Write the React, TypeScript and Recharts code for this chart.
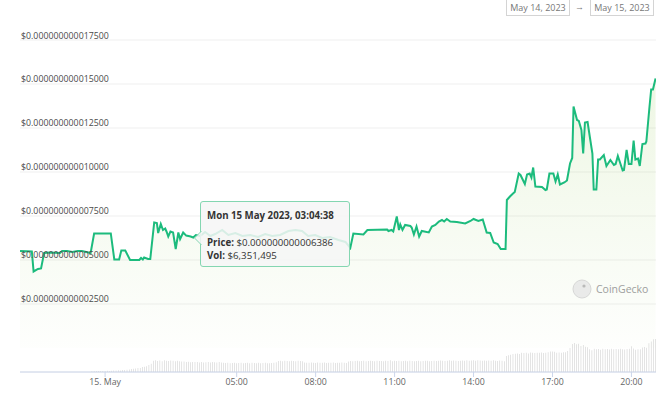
import { ComposedChart, Area, Bar, XAxis, YAxis, CartesianGrid, Tooltip } from "recharts";

const FONT = '"Open Sans", "Noto Sans", sans-serif';
const LINE = "#1cbb7d";

// minutes from 15 May 00:00 (negative = 14 May), price in units of 1e-15 USD
const priceTimes = [
  -194, -167, -163, -153, -146, -139, -126, -103, -98, -87, -75, -62, -53, -33, -25,
  13, 21, 32, 37, 46, 57, 78, 82, 86, 89, 98, 103, 112, 118, 121, 127, 132, 137, 140,
  144, 149, 155, 161, 167, 171, 178, 185, 195, 201, 207, 217, 228, 240, 251, 267, 281,
  297, 313, 331, 349, 365, 381, 399, 418, 434, 449, 463, 479, 495, 513, 532, 548, 559,
  566, 589, 598, 643, 646, 653, 657, 665, 670, 673, 678, 684, 696, 699, 704, 710, 716,
  722, 738, 745, 753, 761, 768, 773, 779, 787, 802, 821, 833, 840, 851, 861, 870, 878,
  886, 895, 902, 913, 916, 923, 930, 934, 943, 947, 957, 962, 968, 972, 976, 981, 996,
  1004, 1007, 1013, 1022, 1027, 1032, 1037, 1047, 1053, 1060, 1065, 1068, 1076, 1080,
  1086, 1090, 1094, 1100, 1105, 1111, 1114, 1120, 1124, 1128, 1137, 1143, 1152, 1160,
  1164, 1169, 1180, 1183, 1189, 1194, 1200, 1205, 1209, 1215, 1219, 1225, 1232, 1234,
  1241, 1245, 1249, 1255,
];
const priceValues = [
  5510, 5483, 4347, 4489, 4517, 5398, 5426, 5398, 5512, 5512, 5455, 5512, 5512, 5398, 6506,
  6506, 5029, 5029, 5540, 5540, 5000, 5000, 5114, 5029, 5142, 5057, 5057, 7131, 7103, 6534, 7046, 6705, 6790, 6620,
  6335, 6620, 6563, 5625, 6563, 6193, 6563, 6386, 6335, 6279, 6421, 6364, 6591, 6364, 6477, 6705, 6421,
  6534, 6364, 6421, 6307, 6477, 6364, 6421, 6648, 6705, 6648, 6364, 6421, 6250, 6307, 6136, 6023, 5682,
  6506, 6449, 6705, 6733, 6648, 6705, 6620, 7472, 6705, 7017, 6705, 6989, 6932, 6847, 6449, 6904, 6335,
  6648, 6563, 6904, 6989, 7188, 7273, 7188, 7330, 7188, 7159, 7074, 7216, 7330, 7216, 7301, 6563, 6534,
  5995, 5909, 5625, 5625, 8409, 8608, 8779, 8864, 9915, 9830, 9318, 9858, 9915, 9688, 10256, 9176, 9148,
  8978, 9006, 9915, 9915, 9461, 9858, 9290, 9404, 9517, 10483, 10796, 13722, 12955, 12898,
  12387, 11051, 12813, 12841, 12017, 11051, 9006, 9006, 10711, 10711, 10966, 10341, 10682, 10398,
  10455, 10909, 10086, 10114, 11250, 10455, 10455, 11790, 10711, 10767, 10341, 11591, 11620, 11733,
  13665, 14688, 14688, 15313,
];

// volume in millions USD, 5 minute bars starting at -30 min, one row per hour
const volumeStart = -30;
const volumeRows = [
  [0.5, 0.6, 0.6, 0.7, 0.6, 0.7, 0.7, 0.8, 0.7, 0.8, 0.9, 1.0],
  [1.1, 1.0, 1.2, 1.3, 1.5, 1.6, 1.9, 2.1, 2.2, 2.6, 2.5, 3.1],
  [3.4, 3.6, 4.4, 5.3, 7.1, 7.4, 7.0, 7.3, 6.9, 7.4, 7.2, 7.0],
  [7.3, 7.1, 6.8, 7.2, 6.9, 6.6, 6.7, 6.35, 6.5, 6.2, 6.4, 6.3],
  [6.4, 6.1, 6.3, 6.0, 6.2, 6.4, 6.1, 6.3, 6.2, 6.0, 6.3, 6.1],
  [5.8, 5.7, 5.9, 5.6, 5.7, 5.8, 5.5, 5.7, 5.9, 5.6, 5.7, 5.8],
  [5.6, 5.8, 5.7, 5.5, 5.8, 5.6, 5.7, 5.9, 5.6, 5.5, 5.7, 5.8],
  [6.2, 7.0, 7.1, 6.9, 7.2, 7.0, 6.8, 7.1, 7.0, 6.9, 7.2, 7.0],
  [6.8, 6.0, 5.9, 5.8, 6.0, 5.9, 5.7, 6.0, 5.8, 5.9, 6.0, 5.7],
  [5.9, 5.8, 6.0, 5.7, 5.9, 5.8, 6.0, 5.9, 5.7, 6.6, 7.0, 6.9],
  [7.0, 7.1, 6.9, 7.0, 7.1, 6.9, 7.0, 7.2, 7.0, 6.9, 7.1, 7.0],
  [7.0, 6.9, 7.1, 7.0, 7.4, 6.9, 7.1, 7.0, 7.2, 6.9, 7.0, 7.1],
  [6.9, 7.2, 7.0, 6.8, 7.0, 7.1, 6.9, 7.0, 7.2, 7.1, 6.8, 7.0],
  [7.1, 7.0, 7.2, 7.3, 7.1, 7.0, 7.2, 7.4, 7.1, 7.3, 7.2, 7.0],
  [7.2, 7.3, 7.1, 7.4, 7.2, 7.3, 7.5, 7.2, 7.4, 7.3, 7.1, 7.3],
  [7.2, 7.3, 7.1, 7.4, 7.2, 7.0, 7.3, 7.1, 6.9, 10.2, 10.6, 11.0],
  [11.4, 11.6, 11.7, 11.5, 12.2, 12.0, 12.3, 11.8, 12.4, 12.2, 12.1, 12.3],
  [12.2, 12.4, 12.0, 12.3, 12.5, 13.1, 13.0, 12.8, 12.2, 12.4, 12.3, 12.6],
  [12.5, 13.3, 15.2, 17.8, 18.4, 17.6, 18.0, 16.6, 17.2, 16.0, 15.8, 14.4],
  [13.8, 14.7, 14.4, 14.6, 14.2, 14.8, 14.5, 14.6, 14.3, 14.7, 14.5, 14.6],
  [14.4, 14.7, 14.5, 14.3, 14.6, 14.8, 16.3, 15.0, 14.2, 14.5, 14.4, 15.6],
  [15.9, 15.4, 18.2, 19.4, 20.8, 20.9],
];

const priceTicks = [2500, 5000, 7500, 10000, 12500, 15000, 17500];
const timeTicks = [0, 300, 480, 660, 840, 1020, 1200];

const tipTime = 185;
const tipLabel = "Mon 15 May 2023, 03:04:38";
const tipPrice = 6386;
const tipVolume = 6351495;

const rowMap = new Map<number, any>();
priceTimes.forEach((t, i) => rowMap.set(t, { t, price: priceValues[i] }));
volumeRows.flat().forEach((v, i) => {
  const t = volumeStart + i * 5;
  const row = rowMap.get(t) ?? { t };
  row.vol = v;
  rowMap.set(t, row);
});
const data = [...rowMap.values()].sort((a, b) => a.t - b.t);
const tipIndex = data.findIndex((d) => d.t === tipTime);

const fmtPrice = (v: number) => "$0." + String(v).padStart(15, "0");
const fmtTime = (t: number) => (t === 0 ? "15. May" : String(t / 60).padStart(2, "0") + ":00");

const PriceTick = ({ y, payload }: any) => (
  <text x={21} y={y - 1.5} fill="#4a4a4a" fontSize={8.8} fontFamily={FONT}>
    {fmtPrice(payload.value)}
  </text>
);

const TipBox = () => (
  <div
    style={{
      position: "relative",
      width: 150,
      height: 66,
      boxSizing: "border-box",
      background: "rgba(246,246,246,0.86)",
      border: "1px solid #84d6b1",
      borderRadius: 3,
      fontFamily: FONT,
      fontSize: 9.7,
      color: "#333",
      lineHeight: "12px",
      whiteSpace: "nowrap",
    }}
  >
    <svg width={8} height={14} style={{ position: "absolute", left: -7, top: 29 }}>
      <polyline points="7.5,0 0.5,7 7.5,14" fill="rgba(246,246,246,0.86)" stroke="#84d6b1" strokeWidth={1} />
    </svg>
    <div style={{ position: "absolute", left: 6, top: 8, fontWeight: 700 }}>{tipLabel}</div>
    <div style={{ position: "absolute", left: 6, top: 35 }}>
      <b>Price:</b> {fmtPrice(tipPrice)}
    </div>
    <div style={{ position: "absolute", left: 6, top: 48 }}>
      <b>Vol:</b> ${tipVolume.toLocaleString("en-US")}
    </div>
  </div>
);

const dateBox = (left: number, text: string) => (
  <div
    style={{
      position: "absolute",
      left,
      top: -2,
      width: 64,
      height: 18,
      boxSizing: "border-box",
      border: "1px solid #d4d4d4",
      fontFamily: FONT,
      fontSize: 9,
      color: "#777",
      textAlign: "center",
      lineHeight: "17px",
    }}
  >
    {text}
  </div>
);

export default function App() {
  return (
    <div style={{ position: "absolute", left: 0, top: 0, width: 665, height: 393, background: "#fff", overflow: "hidden" }}>
      <ComposedChart width={665} height={393} data={data} margin={{ top: 40, right: 9, bottom: 0, left: 19 }}>
        <defs>
          <linearGradient id="priceFill" gradientUnits="userSpaceOnUse" x1="0" y1="40" x2="0" y2="348">
            <stop offset="0%" stopColor="rgb(141,198,71)" stopOpacity={0.28} />
            <stop offset="100%" stopColor="rgb(141,198,71)" stopOpacity={0.02} />
          </linearGradient>
        </defs>
        <CartesianGrid yAxisId="price" vertical={false} stroke="#efefef" />
        <XAxis
          dataKey="t"
          type="number"
          domain={[-194, 1256]}
          allowDataOverflow
          ticks={timeTicks}
          interval={0}
          tickFormatter={fmtTime}
          height={21}
          tickSize={5}
          stroke="#ccd6eb"
          tick={{ fill: "#666", fontSize: 8.8, fontFamily: FONT }}
        />
        <YAxis
          yAxisId="price"
          domain={[-1364, 17500]}
          allowDataOverflow
          ticks={priceTicks}
          interval={0}
          width={1}
          axisLine={false}
          tickLine={false}
          tick={(props: any) => <PriceTick {...props} />}
        />
        <YAxis yAxisId="vol" orientation="right" domain={[0, 211]} allowDataOverflow hide />
        <Bar yAxisId="vol" dataKey="vol" fill="#bcbcbc" barSize={2} isAnimationActive={false} />
        <Area
          yAxisId="price"
          dataKey="price"
          type="linear"
          stroke={LINE}
          strokeWidth={2}
          fill="url(#priceFill)"
          connectNulls
          dot={false}
          activeDot={false}
          isAnimationActive={false}
        />
        <Tooltip
          active
          defaultIndex={tipIndex}
          position={{ x: 200, y: 201 }}
          cursor={false}
          isAnimationActive={false}
          content={() => <TipBox />}
          wrapperStyle={{ outline: "none" }}
        />
      </ComposedChart>

      {dateBox(506, "May 14, 2023")}
      <div style={{ position: "absolute", left: 575, top: 0, fontFamily: FONT, fontSize: 9, color: "#777" }}>→</div>
      {dateBox(590, "May 15, 2023")}

      <div style={{ position: "absolute", left: 572, top: 279, display: "flex", alignItems: "center", gap: 4, opacity: 0.8 }}>
        <svg width={20} height={20}>
          <circle cx={10} cy={10} r={9} fill="#e6e6e6" stroke="#cfcfcf" />
          <circle cx={12} cy={7} r={1.6} fill="#aaa" />
        </svg>
        <span style={{ fontFamily: FONT, fontSize: 10.5, color: "#888" }}>CoinGecko</span>
      </div>
    </div>
  );
}
